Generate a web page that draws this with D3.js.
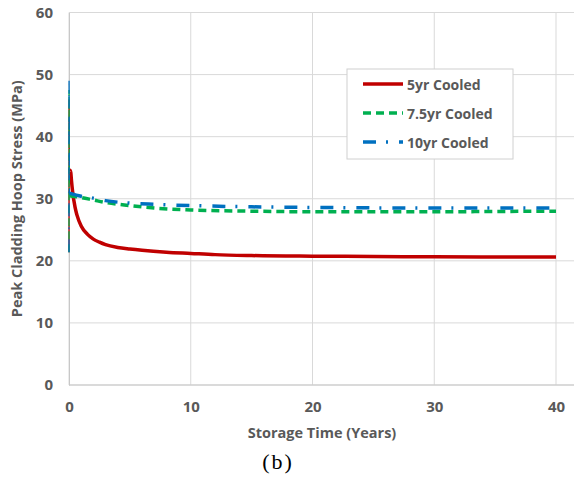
<!DOCTYPE html>
<html>
<head>
<meta charset="utf-8">
<script src="https://cdn.jsdelivr.net/npm/d3@7"></script>
<style>
  body { margin: 0; background: #fff; }
  text { font-family: "Open Sans", "DejaVu Sans", sans-serif; }
</style>
</head>
<body>
<svg id="chart" width="574" height="478"></svg>
<script>
// storage time (years) and peak hoop stress (MPa) per series
const time5 = [0, 0.005, 0.03, 0.08, 0.15, 0.2, 0.3, 0.5, 0.65, 1, 1.5, 2, 2.5, 3, 4, 5, 6, 8, 10, 12, 15, 20, 25, 30, 35, 40];
const stress5 = [21.4, 46, 34.5, 34.6, 34.2, 33.0, 31.1, 28.6, 27.4, 25.6, 24.3, 23.5, 23.0, 22.6, 22.15, 21.9, 21.7, 21.4, 21.2, 21.0, 20.85, 20.75, 20.7, 20.65, 20.6, 20.6];

const time75 = [0, 0.005, 0.03, 1, 2, 3, 5, 7, 10, 15, 20, 25, 30, 35, 40];
const stress75 = [21.4, 47.5, 30.5, 30.2, 29.8, 29.4, 28.9, 28.5, 28.2, 28.0, 27.9, 27.9, 27.9, 27.95, 28.0];

const time10 = [0, 0.005, 0.03, 1, 2, 3, 5, 7, 10, 15, 20, 30, 40];
const stress10 = [21.4, 49.7, 30.9, 30.4, 30.1, 29.7, 29.3, 29.1, 28.9, 28.7, 28.6, 28.5, 28.5];

const seriesNames = ["5yr Cooled", "7.5yr Cooled", "10yr Cooled"];
const xTicks = [0, 10, 20, 30, 40];
const yTicks = [0, 10, 20, 30, 40, 50, 60];

const grey = "#595959";
const gridColor = "#d9d9d9";

const series = [
  { name: seriesNames[0], t: time5, v: stress5, color: "#c00000", dash: null },
  { name: seriesNames[1], t: time75, v: stress75, color: "#00b050", dash: "8 5" },
  { name: seriesNames[2], t: time10, v: stress10, color: "#0070c0", dash: "13 10 2 11" }
];

const svg = d3.select("#chart");

const xScale = d3.scaleLinear().domain([0, 40]).range([69, 556]);
const yScale = d3.scaleLinear().domain([0, 60]).range([385, 12.5]);
const plotRight = 580; // plot area runs past the right edge of the picture

// gridlines
svg.append("g")
  .selectAll("line")
  .data(yTicks)
  .join("line")
    .attr("x1", xScale(0))
    .attr("x2", plotRight)
    .attr("y1", d => yScale(d))
    .attr("y2", d => yScale(d))
    .attr("stroke", gridColor)
    .attr("stroke-width", 1);

svg.append("g")
  .selectAll("line")
  .data(xTicks)
  .join("line")
    .attr("x1", d => xScale(d))
    .attr("x2", d => xScale(d))
    .attr("y1", yScale(60))
    .attr("y2", yScale(0))
    .attr("stroke", gridColor)
    .attr("stroke-width", 1);

// axes (labels only, Excel style)
const yAxis = svg.append("g")
  .attr("transform", `translate(${xScale(0)},0)`)
  .call(d3.axisLeft(yScale).tickValues(yTicks).tickSize(0).tickPadding(16));
yAxis.select(".domain").attr("stroke", "#c8c8c8");
yAxis.selectAll("text")
  .attr("fill", grey)
  .attr("font-size", 15)
  .attr("font-weight", "bold");

const xAxis = svg.append("g")
  .attr("transform", `translate(0,${yScale(0)})`)
  .call(d3.axisBottom(xScale).tickValues(xTicks).tickSize(0).tickPadding(16));
xAxis.select(".domain").attr("stroke", "#c8c8c8").attr("d", `M${xScale(0)},0H${plotRight}`);
xAxis.selectAll("text")
  .attr("fill", grey)
  .attr("font-size", 15)
  .attr("font-weight", "bold");

// data lines: the jump at t=0 is drawn thin, the rest thick
const line = d3.line()
  .x(d => xScale(d[0]))
  .y(d => yScale(d[1]))
  .curve(d3.curveMonotoneX);

series.forEach(s => {
  const pts = s.t.map((t, i) => [t, s.v[i]]);
  svg.append("path")
    .datum(pts.slice(0, 3))
    .attr("fill", "none")
    .attr("stroke", s.color)
    .attr("stroke-width", 1.3)
    .attr("stroke-dasharray", s.dash)
    .attr("d", d3.line().x(d => xScale(d[0])).y(d => yScale(d[1])));
  svg.append("path")
    .datum(pts.slice(2))
    .attr("fill", "none")
    .attr("stroke", s.color)
    .attr("stroke-width", 3.5)
    .attr("stroke-dasharray", s.dash)
    .attr("d", line);
});

// axis titles
svg.append("text")
  .attr("x", 322)
  .attr("y", 438)
  .attr("text-anchor", "middle")
  .attr("fill", grey)
  .attr("font-size", 14.5)
  .attr("font-weight", "bold")
  .text("Storage Time (Years)");

svg.append("text")
  .attr("transform", `translate(22,${(yScale(0) + yScale(60)) / 2}) rotate(-90)`)
  .attr("text-anchor", "middle")
  .attr("fill", grey)
  .attr("font-size", 14.5)
  .attr("font-weight", "bold")
  .text("Peak Cladding Hoop Stress (MPa)");

svg.append("text")
  .attr("x", 278)
  .attr("y", 469)
  .attr("text-anchor", "middle")
  .attr("fill", "#000")
  .attr("font-size", 22)
  .attr("letter-spacing", 2)
  .style("font-family", "'Liberation Serif', serif")
  .text("(b)");

// legend
const legend = svg.append("g").attr("transform", "translate(347,69)");
legend.append("rect")
  .attr("width", 166)
  .attr("height", 90)
  .attr("fill", "#fff")
  .attr("stroke", "#d0d0d0")
  .attr("stroke-width", 1);

series.forEach((s, i) => {
  const yRow = 15 + i * 29;
  legend.append("line")
    .attr("x1", 16)
    .attr("x2", 56)
    .attr("y1", yRow)
    .attr("y2", yRow)
    .attr("stroke", s.color)
    .attr("stroke-width", 3.5)
    .attr("stroke-dasharray", s.dash);
  legend.append("text")
    .attr("x", 60)
    .attr("y", yRow)
    .attr("dominant-baseline", "central")
    .attr("fill", grey)
    .attr("font-size", 14)
    .attr("font-weight", "bold")
    .text(s.name);
});
</script>
</body>
</html>
